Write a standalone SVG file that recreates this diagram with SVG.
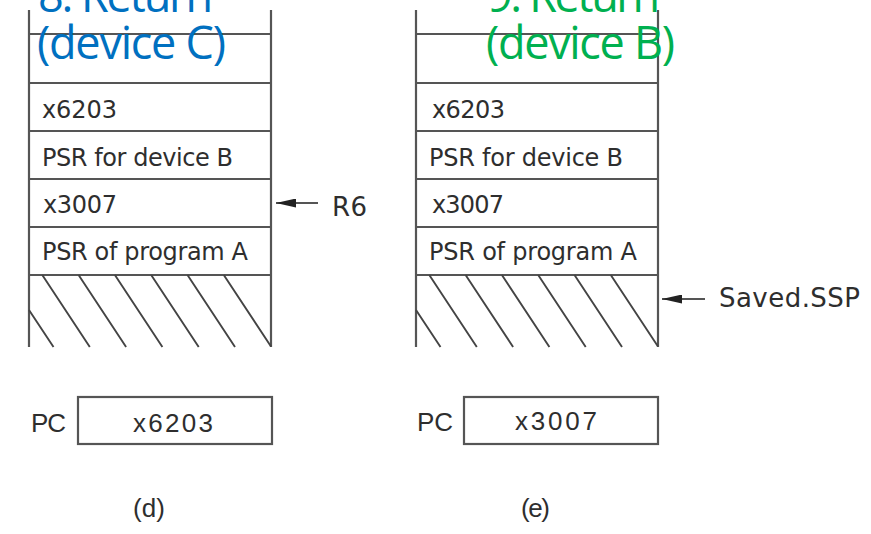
<svg xmlns="http://www.w3.org/2000/svg" width="871" height="534" viewBox="0 0 871 534">
<defs>
<style>
.ln{stroke:#555;stroke-width:2.2;fill:none}
.ht{stroke:#444;stroke-width:1.9;fill:none}
.box{stroke:#555;stroke-width:2.2;fill:#fff}
.lab{font-family:"DejaVu Sans",sans-serif;font-size:24px;fill:#2e2e2e}
.ptr{font-family:"DejaVu Sans",sans-serif;font-size:26px;fill:#2e2e2e}
.pc{font-family:"Liberation Sans",Arial,sans-serif;font-size:26px;fill:#2e2e2e}
.ttl{font-family:"Open Sans",sans-serif;font-size:45px}
</style>
<marker id="ah" viewBox="0 0 20 9" refX="20" refY="4.5" markerWidth="20" markerHeight="9" markerUnits="userSpaceOnUse" orient="auto">
<path d="M0,0 L20,4.5 L0,9 Z" fill="#222"/>
</marker>
</defs>
<rect width="871" height="534" fill="#fff"/>

<g id="stack-d">
<path class="ln" d="M29,10V347M271,10V347M29,34H271M29,83H271M29,131H271M29,179H271M29,227H271M29,275H271"/>
<path class="ht" d="M29,310L53.5,347M42.3,275L89.8,347M78.6,275L126.1,347M114.9,275L162.4,347M151.2,275L198.7,347M187.5,275L235,347M223.8,275L271,346.5"/>
<text class="lab" x="42" y="118" textLength="75">x6203</text>
<text class="lab" x="42" y="166" textLength="191">PSR for device B</text>
<text class="lab" x="43" y="213" textLength="74">x3007</text>
<text class="lab" x="42" y="260" textLength="206">PSR of program A</text>
</g>

<g id="stack-e">
<path class="ln" d="M416,10V347M658,10V347M416,34H658M416,83H658M416,131H658M416,179H658M416,227H658M416,275H658"/>
<path class="ht" d="M416,310L440.5,347M429.3,275L476.8,347M465.6,275L513.1,347M501.9,275L549.4,347M538.2,275L585.7,347M574.5,275L622,347M610.8,275L658,346.5"/>
<text class="lab" x="432" y="118" textLength="73">x6203</text>
<text class="lab" x="429" y="166" textLength="194">PSR for device B</text>
<text class="lab" x="432" y="213" textLength="72">x3007</text>
<text class="lab" x="429" y="260" textLength="208">PSR of program A</text>
</g>

<g id="pc-d">
<rect class="box" x="78" y="397" width="194" height="47"/>
<text class="pc" x="31" y="432" textLength="35">PC</text>
<text class="pc" x="133" y="432" textLength="80">x6203</text>
</g>

<g id="pc-e">
<rect class="box" x="464" y="397" width="194" height="47"/>
<text class="pc" x="417" y="431" textLength="36">PC</text>
<text class="pc" x="515" y="430" textLength="82">x3007</text>
</g>

<g id="connectors">
<line class="ln" x1="318" y1="203" x2="276" y2="203" marker-end="url(#ah)"/>
<line class="ln" x1="705" y1="299" x2="662" y2="299" marker-end="url(#ah)"/>
</g>

<g id="pointer-labels">
<text class="ptr" x="332" y="216" textLength="35">R6</text>
<text class="ptr" x="719" y="307" textLength="141">Saved.SSP</text>
</g>

<g id="captions">
<text class="pc" x="133" y="517" textLength="32">(d)</text>
<text class="pc" x="521" y="517" textLength="29">(e)</text>
</g>

<g id="title-c" class="ttl" fill="#0070C0">
<text x="38" y="12" textLength="175">8. Return</text>
<text x="37" y="59" textLength="189">(device C)</text>
</g>
<g id="title-b" class="ttl" fill="#00B050">
<text x="487" y="12" textLength="173">9. Return</text>
<text x="486" y="59" textLength="189">(device B)</text>
</g>
</svg>
